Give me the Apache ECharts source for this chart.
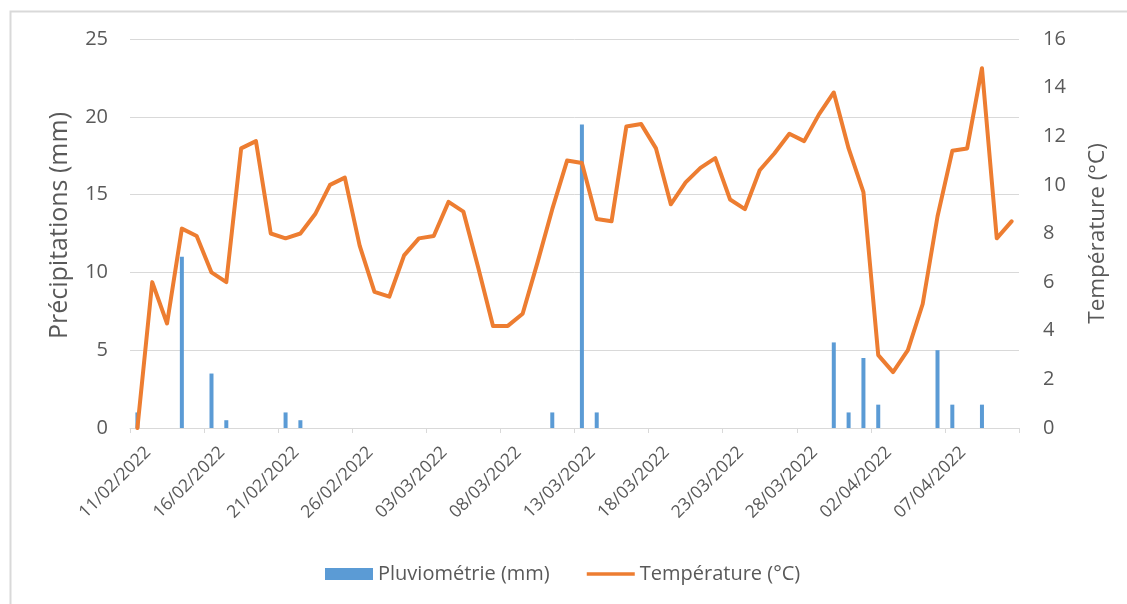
<!DOCTYPE html>
<html>
<head>
<meta charset="utf-8">
<script src="https://cdn.jsdelivr.net/npm/echarts@6/dist/echarts.min.js"></script>
<style>
html,body{margin:0;padding:0;background:#fff;}
#c{width:1127px;height:604px;}
</style>
</head>
<body>
<div id="c"></div>
<script>
const dates = [
 '11/02/2022','12/02/2022','13/02/2022','14/02/2022','15/02/2022','16/02/2022','17/02/2022','18/02/2022','19/02/2022','20/02/2022',
 '21/02/2022','22/02/2022','23/02/2022','24/02/2022','25/02/2022','26/02/2022','27/02/2022','28/02/2022','01/03/2022','02/03/2022',
 '03/03/2022','04/03/2022','05/03/2022','06/03/2022','07/03/2022','08/03/2022','09/03/2022','10/03/2022','11/03/2022','12/03/2022',
 '13/03/2022','14/03/2022','15/03/2022','16/03/2022','17/03/2022','18/03/2022','19/03/2022','20/03/2022','21/03/2022','22/03/2022',
 '23/03/2022','24/03/2022','25/03/2022','26/03/2022','27/03/2022','28/03/2022','29/03/2022','30/03/2022','31/03/2022','01/04/2022',
 '02/04/2022','03/04/2022','04/04/2022','05/04/2022','06/04/2022','07/04/2022','08/04/2022','09/04/2022','10/04/2022','11/04/2022'
];
const pluviometrie = [
 1, 0, 0, 11, 0, 3.5, 0.5, 0, 0, 0,
 1, 0.5, 0, 0, 0, 0, 0, 0, 0, 0,
 0, 0, 0, 0, 0, 0, 0, 0, 1, 0,
 19.5, 1, 0, 0, 0, 0, 0, 0, 0, 0,
 0, 0, 0, 0, 0, 0, 0, 5.5, 1, 4.5,
 1.5, 0, 0, 0, 5, 1.5, 0, 1.5, 0, 0
];
const temperature = [
 0, 6.0, 4.3, 8.2, 7.9, 6.4, 6.0, 11.5, 11.8, 8.0,
 7.8, 8.0, 8.8, 10.0, 10.3, 7.5, 5.6, 5.4, 7.1, 7.8,
 7.9, 9.3, 8.9, 6.6, 4.2, 4.2, 4.7, 6.8, 9.0, 11.0,
 10.9, 8.6, 8.5, 12.4, 12.5, 11.5, 9.2, 10.1, 10.7, 11.1,
 9.4, 9.0, 10.6, 11.3, 12.1, 11.8, 12.9, 13.8, 11.5, 9.7,
 3.0, 2.3, 3.2, 5.1, 8.7, 11.4, 11.5, 14.8, 7.8, 8.5
];
const leftTicks = {min: 0, max: 25, interval: 5};
const rightTicks = {min: 0, max: 16, interval: 2};

const FONT = 'Open Sans';
const TXT = '#595959';
const chart = echarts.init(document.getElementById('c'), null, {renderer: 'canvas'});
chart.setOption({
  animation: false,
  backgroundColor: '#fff',
  textStyle: {fontFamily: FONT},
  graphic: [{
    type: 'rect', left: 8, top: 9, silent: true,
    shape: {x: 8, y: 9, width: 1140, height: 620},
    style: {fill: 'none', stroke: '#d9d9d9', lineWidth: 2}
  }],
  grid: {left: 130, right: 108, top: 39, bottom: 176, containLabel: false},
  legend: {
    bottom: 15, left: 320,
    itemGap: 37, itemWidth: 48, itemHeight: 12,
    textStyle: {fontFamily: FONT, fontSize: 20, color: TXT},
    data: [
      {name: 'Pluviométrie (mm)', icon: 'rect'},
      {name: 'Température (°C)', icon: 'path://M0,0 L52,0 L52,4 L0,4 Z'}
    ]
  },
  xAxis: {
    type: 'category', data: dates, boundaryGap: true,
    axisLine: {lineStyle: {color: '#d9d9d9', width: 1}},
    axisTick: {show: true, interval: 4, length: 5, lineStyle: {color: '#d9d9d9'}},
    axisLabel: {interval: 4, rotate: 45, color: TXT, fontSize: 17.5, fontFamily: FONT,
      margin: 11, verticalAlign: 'top', padding: [6, 0, 0, 0]},
    splitLine: {show: false}
  },
  yAxis: [{
    type: 'value', min: leftTicks.min, max: leftTicks.max, interval: leftTicks.interval,
    name: 'Précipitations (mm)', nameLocation: 'middle', nameGap: 58, nameRotate: 90,
    nameTextStyle: {fontFamily: FONT, fontSize: 25, color: TXT, padding: [0, 0, 0, 16]},
    axisLine: {show: false}, axisTick: {show: false},
    axisLabel: {color: TXT, fontSize: 20, fontFamily: FONT, margin: 22},
    splitLine: {lineStyle: {color: '#d9d9d9', width: 1}}
  }, {
    type: 'value', min: rightTicks.min, max: rightTicks.max, interval: rightTicks.interval,
    name: 'Température (°C)', nameLocation: 'middle', nameGap: 67, nameRotate: 90,
    nameTextStyle: {fontFamily: FONT, fontSize: 22.5, color: TXT},
    axisLine: {show: false}, axisTick: {show: false},
    axisLabel: {color: TXT, fontSize: 20, fontFamily: FONT, margin: 24},
    splitLine: {show: false}
  }],
  series: [{
    name: 'Pluviométrie (mm)', type: 'bar', yAxisIndex: 0,
    data: pluviometrie, barWidth: 4,
    itemStyle: {color: '#5b9bd5'}
  }, {
    name: 'Température (°C)', type: 'line', yAxisIndex: 1,
    data: temperature, symbol: 'none', smooth: false,
    lineStyle: {color: '#ed7d31', width: 4, join: 'round', cap: 'round'},
    itemStyle: {color: '#ed7d31'}
  }]
});
</script>
</body>
</html>
